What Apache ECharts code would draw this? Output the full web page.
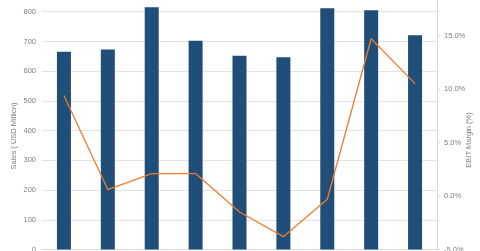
<!DOCTYPE html>
<html><head><meta charset="utf-8">
<script src="https://cdn.jsdelivr.net/npm/echarts@6/dist/echarts.min.js"></script>
<style>html,body{margin:0;padding:0;background:#fff;overflow:hidden;width:480px;height:251px}#c{width:480px;height:270px;margin-top:-19px}</style>
</head><body><div id="c"></div>
<script>
const categories = ['1','2','3','4','5','6','7','8','9'];
const sales = [665, 673, 815, 702, 652, 647, 812, 805, 721];
const ebitMargin = [9.4, 0.6, 2.1, 2.1, -1.5, -3.8, -0.3, 14.7, 10.5];
const salesTicks = {min: 0, max: 900, interval: 100};
const marginTicks = {min: -5, max: 20, interval: 5};

const chart = echarts.init(document.getElementById('c'), null, {renderer: 'canvas'});
const lbl = {color: '#7f7f7f', fontSize: 7.5, fontFamily: 'Liberation Sans'};
chart.setOption({
  animation: false,
  grid: {left: 42, right: 43, top: 1, bottom: 1.5, outerBoundsMode: 'none', containLabel: false},
  xAxis: {type: 'category', data: categories, axisLabel: {show: false}, axisTick: {show: false},
    axisLine: {lineStyle: {color: '#d9d9d9'}}},
  yAxis: [
    {type: 'value', min: salesTicks.min, max: salesTicks.max, interval: salesTicks.interval,
     axisLabel: Object.assign({margin: 6}, lbl), axisLine: {show: false}, axisTick: {show: false},
     splitLine: {lineStyle: {color: '#e3e3e3', width: 1}}},
    {type: 'value', min: marginTicks.min, max: marginTicks.max, interval: marginTicks.interval,
     axisLabel: Object.assign({margin: 7, formatter: v => v.toFixed(1) + '%'}, lbl),
     axisLine: {show: true, lineStyle: {color: '#d9d9d9'}},
     axisTick: {show: true, length: 3, lineStyle: {color: '#d9d9d9'}}, splitLine: {show: false}}
  ],
  series: [
    {type: 'bar', data: sales, barWidth: 14, itemStyle: {color: '#1f4e79'}},
    {type: 'line', yAxisIndex: 1, data: ebitMargin, symbol: 'none',
     lineStyle: {color: '#ed7d31', width: 1.3}}
  ],
  graphic: [
    {type: 'text', x: 14, y: 155, rotation: Math.PI/2,
     style: {text: 'Sales ( USD Million)', fill: '#7f7f7f', fontSize: 7.5, fontFamily: 'Liberation Sans', align: 'center', verticalAlign: 'middle'}},
    {type: 'text', x: 469, y: 159, rotation: Math.PI/2,
     style: {text: 'EBIT Margin (%)', fill: '#7f7f7f', fontSize: 7.5, fontFamily: 'Liberation Sans', align: 'center', verticalAlign: 'middle'}}
  ]
});
</script></body></html>
